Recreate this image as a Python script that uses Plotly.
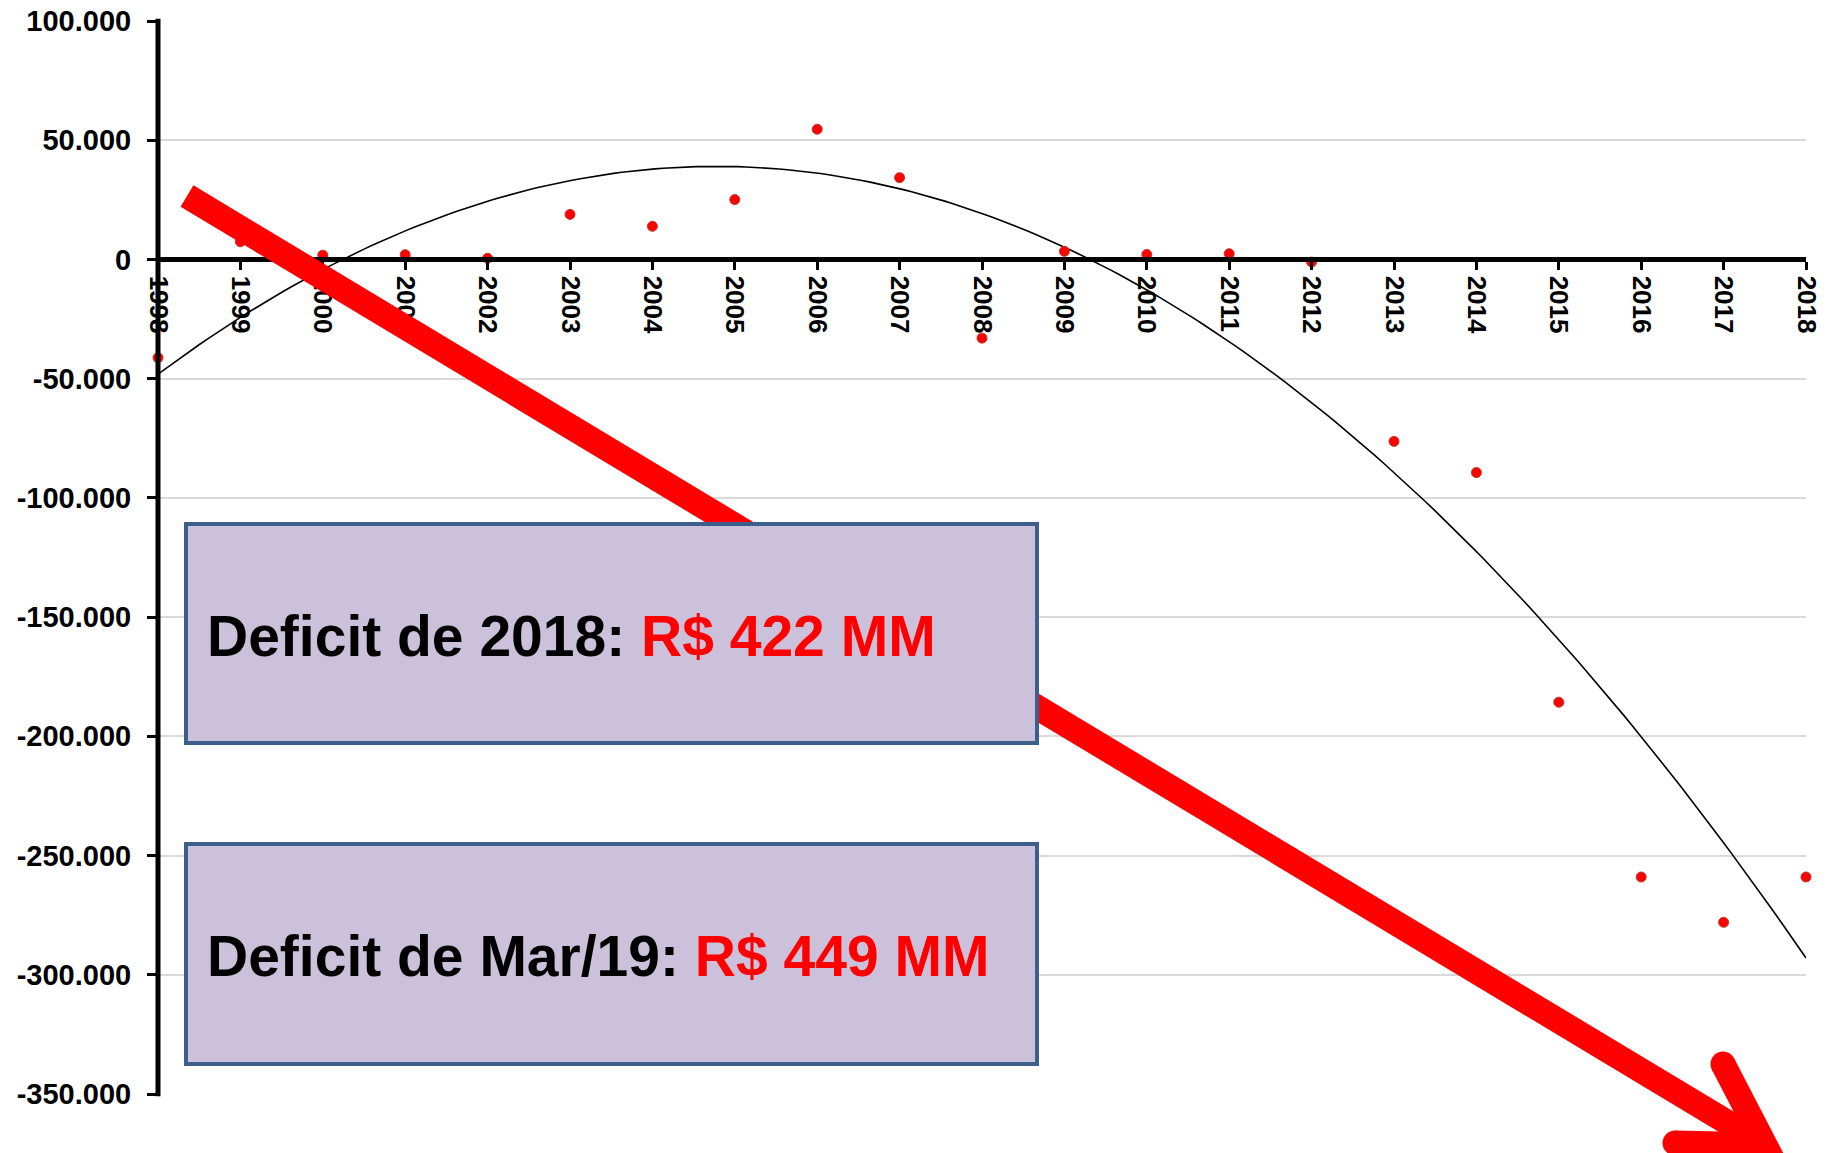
import numpy as np
import plotly.graph_objects as go

# ---------------- data ----------------
years = [1998, 1999, 2000, 2001, 2002, 2003, 2004, 2005, 2006, 2007, 2008,
         2009, 2010, 2011, 2012, 2013, 2014, 2015, 2016, 2017, 2018]
deficit = [-41200, 7400, 1800, 2000, 500, 18900, 13900, 25100, 54600, 34300, -33000,
           3400, 2100, 2400, -1100, -76300, -89400, -185700, -259000, -278000, -259000]
year_labels = [str(y) for y in years]
y_ticks = [100000, 50000, 0, -50000, -100000, -150000, -200000, -250000, -300000, -350000]
y_tick_labels = ["100.000", "50.000", "0", "-50.000", "-100.000", "-150.000",
                 "-200.000", "-250.000", "-300.000", "-350.000"]
box_texts = [("Deficit de 2018: ", "R$ 422 MM"), ("Deficit de Mar/19: ", "R$ 449 MM")]

# quadratic trend line (Excel-style polynomial trendline) fitted on the data
coef = np.polyfit(np.array(years) - 2008, np.array(deficit, dtype=float), 2)
t_years = np.linspace(1998, 2018, 200)
trend = np.polyval(coef, t_years - 2008)

# ---------------- layout geometry (pixels) ----------------
W, H = 1827, 1153
L, R, T, B = 158, 21, 21, 59
PW, PH = W - L - R, H - T - B


def px(x):
    return (x - L) / PW


def py(y):
    return (H - B - y) / PH


FONT = "Liberation Sans, Arial, sans-serif"

fig = go.Figure()
fig.add_trace(go.Scatter(x=t_years, y=trend, mode="lines",
                         line=dict(color="black", width=1.6),
                         hoverinfo="skip", showlegend=False, cliponaxis=False))
fig.add_trace(go.Scatter(x=years, y=deficit, mode="markers",
                         marker=dict(color="#ff0000", size=10,
                                     line=dict(color="#c0392b", width=1)),
                         showlegend=False, cliponaxis=False))

shapes = []
# vertical axis line drawn centred on the first category (as in the original)
shapes.append(dict(type="line", xref="paper", yref="paper",
                   x0=0, x1=0, y0=-0.002, y1=1.002,
                   line=dict(color="black", width=5), layer="above"))

RED = "#ff0000"
AW = 25
tail = (187, 196)
tip = (1765, 1145)
arm_up = (1723, 1064)
arm_lo = (1675, 1143)
shapes.append(dict(type="line", xref="paper", yref="paper",
                   x0=px(tail[0]), y0=py(tail[1]), x1=px(tip[0] - 20), y1=py(tip[1] - 12),
                   line=dict(color=RED, width=AW), layer="above"))
shapes.append(dict(type="path", xref="paper", yref="paper",
                   path=f"M {px(arm_up[0])} {py(arm_up[1])} L {px(tip[0])} {py(tip[1])} L {px(arm_lo[0])} {py(arm_lo[1])}",
                   line=dict(color=RED, width=AW), layer="above"))
for (cx, cy) in (arm_up, arm_lo):
    shapes.append(dict(type="circle", xref="paper", yref="paper",
                       xsizemode="pixel", ysizemode="pixel",
                       xanchor=px(cx), yanchor=py(cy),
                       x0=-AW / 2, x1=AW / 2, y0=-AW / 2, y1=AW / 2,
                       fillcolor=RED, line=dict(width=0), layer="above"))

boxes = [(186, 524, 1037, 743), (186, 844, 1037, 1064)]
annotations = []
for (x0, y0, x1, y1), (t1, t2) in zip(boxes, box_texts):
    shapes.append(dict(type="rect", xref="paper", yref="paper",
                       x0=px(x0), x1=px(x1), y0=py(y1), y1=py(y0),
                       fillcolor="#ccc1da", line=dict(color="#3d5f8c", width=4),
                       layer="above"))
    annotations.append(dict(xref="paper", yref="paper", x=px(205), y=py((y0 + y1) / 2 + 2),
                            xanchor="left", yanchor="middle", showarrow=False,
                            text=f"<b>{t1}<span style='color:#ff0000'>{t2}</span></b>",
                            font=dict(family=FONT, size=57, color="black")))

fig.update_layout(
    width=W, height=H,
    margin=dict(l=L, r=R, t=T, b=B, pad=0, autoexpand=False),
    paper_bgcolor="white", plot_bgcolor="white",
    shapes=shapes, annotations=annotations,
    showlegend=False,
    xaxis=dict(range=[1998, 2018], tickvals=years, ticktext=year_labels,
               tickangle=90, anchor="free", position=350000 / 450000,
               showline=True, linecolor="black", linewidth=5,
               ticks="outside", ticklen=8, tickwidth=3, tickcolor="black",
               showgrid=False, zeroline=False, ticklabelstandoff=0, automargin=False,
               tickfont=dict(family=FONT, size=26, color="black", weight="bold")),
    yaxis=dict(range=[-350000, 100000], tickvals=y_ticks, ticktext=y_tick_labels,
               showline=False,
               ticks="outside", ticklen=10, tickwidth=3, tickcolor="black",
               showgrid=True, gridcolor="#d9d9d9", gridwidth=2, zeroline=False,
               ticklabelstandoff=10, automargin=False,
               tickfont=dict(family=FONT, size=29, color="black", weight="bold")),
)

fig.write_html("out.html", config={"displayModeBar": False},
               post_script="document.body.style.margin='0';document.body.style.overflow='hidden';")
